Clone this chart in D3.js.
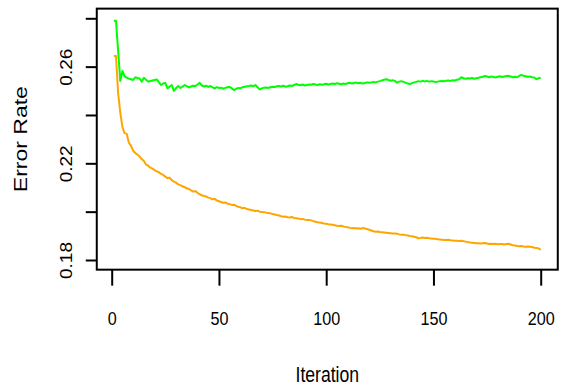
<!DOCTYPE html>
<html><head><meta charset="utf-8">
<script src="https://cdn.jsdelivr.net/npm/d3@7"></script>
<style>body{margin:0;background:#fff}svg{display:block}text{font-family:"Liberation Sans",Arial,sans-serif;fill:#000}</style>
</head><body><div id="chart"></div>
<script>
const iterations = d3.range(1, 201);
const greenSeries = [
0.2790,0.2790,0.2665,0.2541,0.2582,0.2560,0.2555,0.2550,0.2548,0.2545,
0.2556,0.2553,0.2551,0.2538,0.2554,0.2546,0.2538,0.2541,0.2543,0.2545,
0.2547,0.2536,0.2524,0.2530,0.2533,0.2510,0.2518,0.2524,0.2500,0.2511,
0.2520,0.2512,0.2517,0.2524,0.2519,0.2514,0.2518,0.2521,0.2520,0.2526,
0.2533,0.2522,0.2518,0.2521,0.2516,0.2520,0.2514,0.2510,0.2515,0.2512,
0.2513,0.2509,0.2512,0.2515,0.2516,0.2510,0.2503,0.2508,0.2512,0.2511,
0.2515,0.2517,0.2519,0.2520,0.2522,0.2519,0.2524,0.2515,0.2506,0.2510,
0.2513,0.2514,0.2512,0.2515,0.2517,0.2516,0.2519,0.2520,0.2518,0.2521,
0.2517,0.2519,0.2522,0.2520,0.2524,0.2528,0.2525,0.2523,0.2526,0.2522,
0.2524,0.2526,0.2525,0.2528,0.2526,0.2524,0.2527,0.2525,0.2527,0.2529,
0.2526,0.2528,0.2530,0.2528,0.2531,0.2529,0.2527,0.2530,0.2528,0.2531,
0.2533,0.2530,0.2532,0.2534,0.2531,0.2533,0.2530,0.2532,0.2535,0.2533,
0.2535,0.2537,0.2535,0.2538,0.2540,0.2543,0.2546,0.2548,0.2545,0.2542,
0.2544,0.2541,0.2534,0.2538,0.2540,0.2537,0.2534,0.2530,0.2528,0.2532,
0.2535,0.2537,0.2540,0.2538,0.2541,0.2539,0.2541,0.2538,0.2540,0.2539,
0.2536,0.2538,0.2540,0.2541,0.2540,0.2542,0.2543,0.2541,0.2544,0.2543,
0.2546,0.2548,0.2556,0.2552,0.2550,0.2552,0.2551,0.2553,0.2550,0.2552,
0.2554,0.2556,0.2558,0.2561,0.2559,0.2556,0.2559,0.2557,0.2555,0.2558,
0.2560,0.2557,0.2559,0.2561,0.2562,0.2559,0.2556,0.2558,0.2556,0.2562,
0.2566,0.2562,0.2560,0.2558,0.2559,0.2556,0.2555,0.2548,0.2552,0.2554];
const orangeSeries = [
0.2644,0.2644,0.2490,0.2410,0.2350,0.2325,0.2322,0.2285,0.2272,0.2252,
0.2243,0.2236,0.2228,0.2218,0.2210,0.2195,0.2190,0.2182,0.2178,0.2172,
0.2167,0.2163,0.2156,0.2152,0.2145,0.2138,0.2141,0.2130,0.2124,0.2120,
0.2113,0.2110,0.2105,0.2101,0.2097,0.2094,0.2088,0.2083,0.2085,0.2078,
0.2072,0.2068,0.2065,0.2063,0.2058,0.2056,0.2051,0.2053,0.2046,0.2043,
0.2040,0.2037,0.2038,0.2033,0.2031,0.2028,0.2029,0.2024,0.2020,0.2018,
0.2014,0.2016,0.2011,0.2009,0.2007,0.2005,0.2003,0.2004,0.2000,0.1999,
0.1998,0.1996,0.1994,0.1993,0.1990,0.1988,0.1986,0.1984,0.1981,0.1979,
0.1980,0.1977,0.1976,0.1978,0.1974,0.1973,0.1972,0.1969,0.1970,0.1967,
0.1966,0.1966,0.1964,0.1961,0.1958,0.1956,0.1955,0.1953,0.1951,0.1950,
0.1948,0.1947,0.1946,0.1944,0.1942,0.1941,0.1942,0.1939,0.1937,0.1936,
0.1933,0.1931,0.1932,0.1930,0.1931,0.1929,0.1932,0.1930,0.1928,0.1925,
0.1922,0.1919,0.1917,0.1918,0.1916,0.1915,0.1914,0.1913,0.1912,0.1911,
0.1910,0.1910,0.1909,0.1906,0.1904,0.1905,0.1903,0.1901,0.1899,0.1898,
0.1896,0.1894,0.1890,0.1891,0.1893,0.1891,0.1892,0.1890,0.1889,0.1888,
0.1888,0.1886,0.1885,0.1884,0.1883,0.1883,0.1884,0.1882,0.1881,0.1880,
0.1880,0.1879,0.1880,0.1878,0.1876,0.1874,0.1872,0.1871,0.1870,0.1869,
0.1869,0.1868,0.1869,0.1870,0.1868,0.1866,0.1867,0.1866,0.1867,0.1865,
0.1866,0.1866,0.1864,0.1866,0.1867,0.1864,0.1861,0.1860,0.1858,0.1857,
0.1858,0.1856,0.1855,0.1856,0.1855,0.1854,0.1851,0.1850,0.1848,0.1842];
const xTicks = [0, 50, 100, 150, 200];
const yTicks = [0.18, 0.20, 0.22, 0.24, 0.26, 0.28];
const yTickLabels = ["0.18", "", "0.22", "", "0.26", ""];
const xTitle = "Iteration";
const yTitle = "Error Rate";

(function () {
const W = 562, H = 392;
const svg = d3.select("#chart").append("svg").attr("width", W).attr("height", H);
svg.append("rect").attr("width", W).attr("height", H).attr("fill", "#fff");

const x = d3.scaleLinear().domain([0, 200]).range([111.7, 540.7]);
const y = d3.scaleLinear().domain([0.18, 0.28]).range([260, 18.3]);
const xLo = 1 - 0.04 * 199, xHi = 200 + 0.04 * 199;
const yLo = 0.18 - 0.004, yHi = 0.28 + 0.004;
const pLeft = x(xLo), pRight = x(xHi), pTop = y(yHi), pBottom = y(yLo);

const line = d3.line().x((d, i) => x(iterations[i])).y(d => y(d));
svg.append("path").datum(orangeSeries).attr("d", line)
  .attr("fill", "none").attr("stroke", "#FFA500").attr("stroke-width", 2).attr("stroke-linejoin", "round");
svg.append("path").datum(greenSeries).attr("d", line)
  .attr("fill", "none").attr("stroke", "#00FF00").attr("stroke-width", 2).attr("stroke-linejoin", "round");

svg.append("rect").attr("x", pLeft).attr("y", pTop).attr("width", pRight - pLeft).attr("height", pBottom - pTop)
  .attr("fill", "none").attr("stroke", "#000").attr("stroke-width", 2);

const gx = svg.append("g").attr("transform", `translate(0,${pBottom})`)
  .call(d3.axisBottom(x).tickValues(xTicks).tickSize(16).tickSizeOuter(0).tickFormat(d3.format("d")));
gx.select(".domain").remove();
gx.selectAll(".tick line").attr("stroke", "#000").attr("stroke-width", 2);
gx.selectAll(".tick text").attr("y", null).attr("dy", null)
  .attr("font-size", 19).attr("text-anchor", "middle")
  .attr("transform", `translate(0,${325 - pBottom}) scale(0.85,1)`);

const gy = svg.append("g").attr("transform", `translate(${pLeft},0)`)
  .call(d3.axisLeft(y).tickValues(yTicks).tickSize(11).tickSizeOuter(0).tickFormat((d, i) => yTickLabels[i]));
gy.select(".domain").remove();
gy.selectAll(".tick line").attr("stroke", "#000").attr("stroke-width", 2);
gy.selectAll(".tick text").attr("x", null).attr("dy", null)
  .attr("font-size", 19).attr("text-anchor", "middle")
  .attr("transform", `translate(${71.5 - pLeft},0) scale(0.85,1) rotate(-90)`);

svg.append("text").text(xTitle).attr("font-size", 22).attr("text-anchor", "middle")
  .attr("transform", `translate(${(pLeft + pRight) / 2},382) scale(0.8,1)`);
svg.append("text").text(yTitle).attr("font-size", 23).attr("text-anchor", "middle")
  .attr("transform", `translate(27,${(pTop + pBottom) / 2}) scale(0.8,1) rotate(-90)`);
})();
</script></body></html>
